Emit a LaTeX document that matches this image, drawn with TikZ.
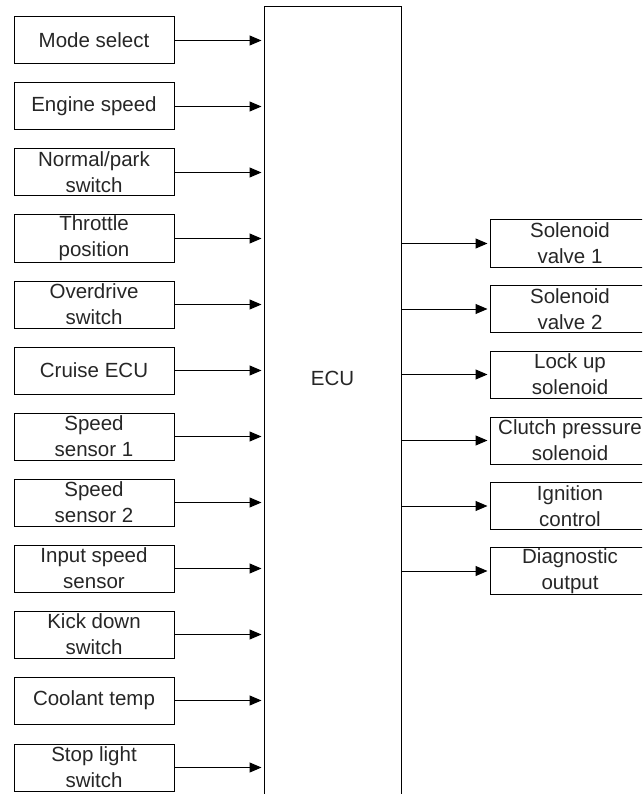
\documentclass[tikz,border=0pt]{standalone}
\usepackage{fontspec}
\setmainfont{Liberation Sans}
\usetikzlibrary{arrows.meta}
\begin{document}
\begin{tikzpicture}[x=1pt,y=-1pt,
  blk/.style={draw, line width=1pt, minimum width=160pt, minimum height=47pt, inner sep=0pt,
    align=center, font=\fontsize{20.5}{26}\selectfont, text=black!85},
  conn/.style={line width=1pt, -{Triangle[length=12pt,width=10pt]}, shorten >=2pt},
  ecubox/.style={draw, line width=1pt, minimum width=137pt, minimum height=800pt, inner sep=0pt}]
\useasboundingbox (0,0) rectangle (642,794);
\clip (0,0) rectangle (642,794);
\node[ecubox] (ecu) at (332.5,407) {};
\node[font=\fontsize{20.5}{26}\selectfont, text=black!85] (ecul) at (332.5,378) {ECU};
% inputs
\node[blk] (i1) at (94,40.5) {Mode select};
\node[blk] (i2) at (94,106.5) {Engine speed};
\node[blk] (i3) at (94,172.5) {Normal/park\\switch};
\node[blk] (i4) at (94,238.5) {Throttle\\position};
\node[blk] (i5) at (94,304.5) {Overdrive\\switch};
\node[blk] (i6) at (94,370.5) {Cruise ECU};
\node[blk] (i7) at (94,436.5) {Speed\\sensor 1};
\node[blk] (i8) at (94,502.5) {Speed\\sensor 2};
\node[blk] (i9) at (94,568.5) {Input speed\\sensor};
\node[blk] (i10) at (94,634.5) {Kick down\\switch};
\node[blk] (i11) at (94,700.5) {Coolant temp};
\node[blk] (i12) at (94,767.5) {Stop light\\switch};
\foreach \i in {1,...,12} \draw[conn] (i\i.east) -- (i\i.east -| ecu.west);
% outputs
\node[blk] (o1) at (570,243.5) {Solenoid\\valve 1};
\node[blk] (o2) at (570,309) {Solenoid\\valve 2};
\node[blk] (o3) at (570,374.5) {Lock up\\solenoid};
\node[blk] (o4) at (570,440.5) {Clutch pressure\\solenoid};
\node[blk] (o5) at (570,506) {Ignition\\control};
\node[blk] (o6) at (570,571) {Diagnostic\\output};
\foreach \i in {1,...,6} \draw[conn] (o\i.west -| ecu.east) -- (o\i.west);
\end{tikzpicture}
\end{document}
